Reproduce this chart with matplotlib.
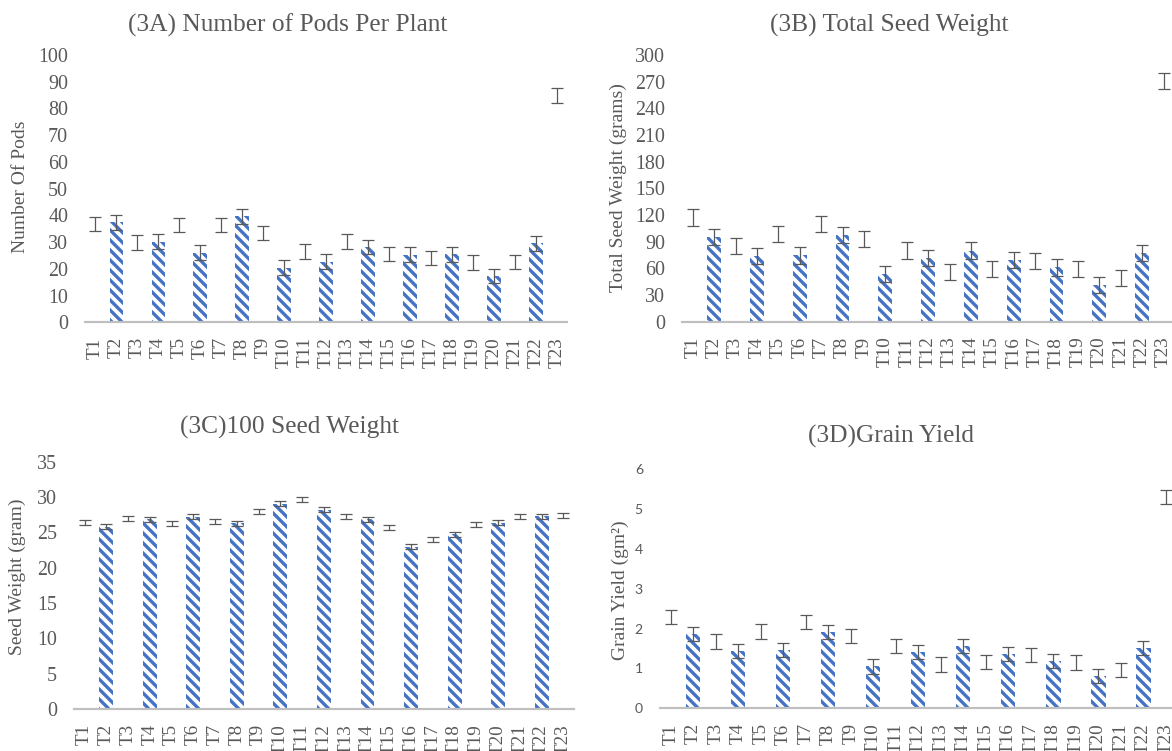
import numpy as np
import matplotlib
matplotlib.use("Agg")
import matplotlib.pyplot as plt

plt.rcParams['font.family'] = ['Liberation Serif', 'DejaVu Serif']
plt.rcParams['hatch.linewidth'] = 2.0

labels = ['T%d' % i for i in range(1, 24)]

pods = [36.8, 37.4, 29.8, 30.2, 36.3, 26.1, 36.5, 39.6, 33.5, 20.5, 26.5, 22.7,
        30.2, 28.2, 25.5, 25.3, 24.1, 25.4, 22.4, 17.4, 22.5, 29.5, 84.9]
pods_err = [2.7] * 23

seed_wt = [117.4, 95.3, 85.5, 73.9, 98.6, 74.6, 109.9, 97.7, 93.0, 53.4, 80.2, 72.0,
           56.2, 79.9, 59.2, 69.5, 68.2, 61.1, 59.2, 41.2, 49.5, 77.6, 271.0]
seed_wt_err = [9.2] * 23

seed100 = [26.35, 25.8, 26.9, 26.85, 26.3, 27.2, 26.5, 26.3, 27.9, 29.05, 29.6, 28.2,
           27.3, 26.85, 25.7, 22.95, 24.05, 24.7, 26.05, 26.35, 27.2, 27.25, 27.4]
seed100_err = [0.35] * 23

grain = [2.30, 1.87, 1.68, 1.44, 1.93, 1.46, 2.16, 1.92, 1.82, 1.05, 1.56, 1.41,
         1.10, 1.56, 1.16, 1.36, 1.33, 1.19, 1.15, 0.81, 0.96, 1.52, 5.31]
grain_err = [0.18] * 23

W, H, DPI = 1172, 751, 120
fig = plt.figure(figsize=(W / DPI, H / DPI), dpi=DPI)

BLUE = '#4472C4'
TXT = '#595959'


def px_axes(y_top, y_bot, first, step):
    # axes placed in pixels from the first category centre and the spacing
    left = first - step / 2
    width = step * 23
    return fig.add_axes([left / W, 1 - y_bot / H, width / W, (y_bot - y_top) / H])


def panel(ax, vals, errs, ymax, ystep, tick_font=None, tick_size=12):
    x = np.arange(len(vals))
    bars = ax.bar(x, vals, width=0.64, color='white', edgecolor=BLUE, linewidth=0)
    # every second treatment gets the striped fill
    for i, b in enumerate(bars):
        if i % 2 == 1:
            b.set_hatch('\\\\\\\\')
    ax.errorbar(x, vals, yerr=errs, fmt='none', ecolor=TXT, elinewidth=0.75,
                capsize=3.6, capthick=0.75, zorder=3)
    ax.set_xlim(-0.5, 22.5)
    ax.set_ylim(0, ymax)
    ax.set_yticks(np.arange(0, ymax + ystep / 2, ystep))
    ax.set_xticks(x)
    ax.set_xticklabels(labels, rotation=90, va='top', ha='center')
    for s in ['top', 'right', 'left']:
        ax.spines[s].set_visible(False)
    ax.spines['bottom'].set_color('#BFBFBF')
    ax.spines['bottom'].set_linewidth(1.3)
    ax.tick_params(axis='both', length=0, colors=TXT)
    ax.tick_params(axis='x', pad=9, labelsize=11.5)
    ax.tick_params(axis='y', pad=10, labelsize=tick_size)
    if tick_font:
        for t in ax.get_yticklabels():
            t.set_family(tick_font)
    ax.patch.set_alpha(0)


axA = px_axes(55, 322.3, 95.3, 20.98)
panel(axA, pods, pods_err, 100, 10)
axB = px_axes(55, 321.7, 692.7, 21.4)
panel(axB, seed_wt, seed_wt_err, 300, 30)
axC = px_axes(461.7, 709, 84.5, 21.77)
panel(axC, seed100, seed100_err, 35, 5)
axD = px_axes(469.3, 708.3, 670.8, 22.5)
panel(axD, grain, grain_err, 6, 1, tick_font='Lato', tick_size=8.4)


def ftext(x, y, s, size, rot=0):
    fig.text(x / W, 1 - y / H, s, ha='center', va='center', rotation=rot,
             fontsize=size, color=TXT)


ftext(288, 25, '(3A) Number of Pods Per Plant', 15.2)
ftext(889, 25, '(3B) Total Seed Weight', 15.2)
ftext(289, 427, '(3C)100 Seed Weight', 15.2)
ftext(890.5, 436, '(3D)Grain Yield', 15.2)

ftext(20.7, 186.7, 'Number Of Pods', 11.7, 90)
ftext(618, 187.5, 'Total Seed Weight (grams)', 11.7, 90)
ftext(17, 577, 'Seed Weight (gram)', 11.7, 90)
ftext(620, 590, 'Grain Yield (gm\u00b2)', 11.7, 90)

fig.savefig('out.png', dpi=DPI, facecolor='white')
